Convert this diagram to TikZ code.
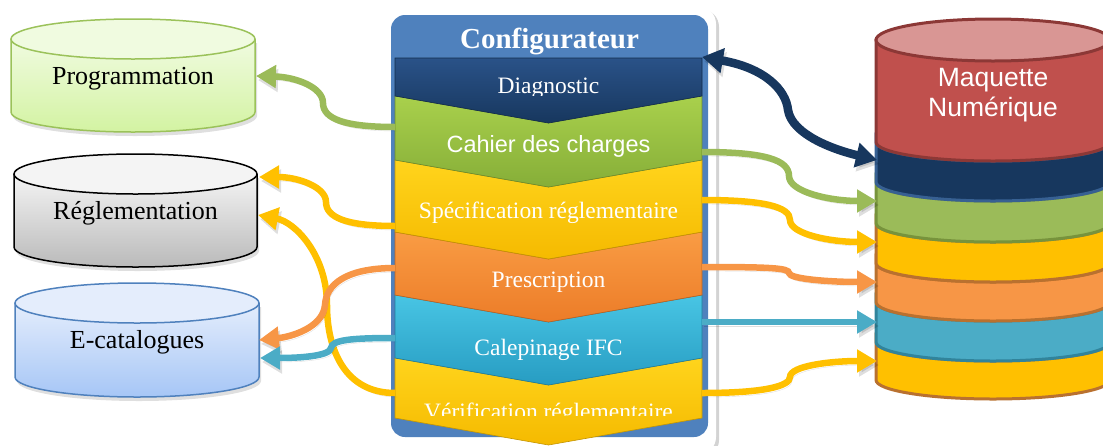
\documentclass[tikz,border=0pt]{standalone}
\usepackage{fontspec}
\setmainfont{Liberation Serif}
\newfontfamily\arialf{Liberation Sans}
\usetikzlibrary{arrows.meta,shadows}
\definecolor{cnavy}{HTML}{17375E}
\definecolor{cgreen}{HTML}{9BBB59}
\definecolor{cyellow}{HTML}{FFC000}
\definecolor{corange}{HTML}{F79646}
\definecolor{cteal}{HTML}{4BACC6}
\definecolor{cred}{HTML}{C0504D}
\definecolor{credtop}{HTML}{D99694}
\definecolor{credline}{HTML}{8C3836}
\definecolor{cnavyline}{HTML}{376092}
\definecolor{cgreenline}{HTML}{77933C}
\definecolor{cbrownline}{HTML}{B9712F}
\definecolor{ctealline}{HTML}{31849B}
\definecolor{panelblue}{HTML}{4F81BD}
\definecolor{progA}{HTML}{F0FBE0}
\definecolor{progB}{HTML}{D3F3A2}
\definecolor{progS}{HTML}{9BC25A}
\definecolor{reglA}{HTML}{F4F4F4}
\definecolor{reglB}{HTML}{BABABA}
\definecolor{ecatA}{HTML}{E4EDFC}
\definecolor{ecatB}{HTML}{A6C6F6}
\definecolor{ecatS}{HTML}{4F81BD}
\definecolor{diagA}{HTML}{2A5288}
\definecolor{diagB}{HTML}{17375E}
\definecolor{cahA}{HTML}{A9D04C}
\definecolor{cahB}{HTML}{86AE38}
\definecolor{yelA}{HTML}{FFD41C}
\definecolor{yelB}{HTML}{F5BA00}
\definecolor{orA}{HTML}{F99C44}
\definecolor{orB}{HTML}{EC7C28}
\definecolor{teA}{HTML}{48C5E4}
\definecolor{teB}{HTML}{279CC2}
\tikzset{
  connshadow/.style={preaction={draw=black, draw opacity=0.13, fill opacity=0.13, transform canvas={shift={(2pt,-4pt)}}}},
  conn/.style={connshadow, line width=6.5pt, -{Triangle[length=20pt,width=22pt]}},
  chtext/.style={text=white, font=\fontsize{23.5}{27}\selectfont, anchor=base, inner sep=0pt},
  cyltext/.style={font=\fontsize{26}{30}\selectfont, anchor=base, inner sep=0pt},
  cylshadow/.style={drop shadow={opacity=0.25, shadow xshift=2pt, shadow yshift=-4pt}},
}
\begin{document}
\begin{tikzpicture}[x=1pt,y=-1pt]
\useasboundingbox (0,0) rectangle (1103,445);

% ---------- left cylinders ----------
% Programmation
\path[cylshadow, top color=progA, bottom color=progB] (11,39) -- (11,112) arc[start angle=180,end angle=0,x radius=122,y radius=20] -- (255,39) -- cycle;
\draw[progS, line width=1.5pt] (11,39) -- (11,112) arc[start angle=180,end angle=0,x radius=122,y radius=20] -- (255,39);
\draw[progS, line width=1.5pt, fill=progA] (133,39) ellipse[x radius=122, y radius=20];
\node[cyltext] (prog) at (133,84) {Programmation};
% Reglementation
\path[cylshadow, top color=reglA, bottom color=reglB] (14,174) -- (14,247) arc[start angle=180,end angle=0,x radius=121.5,y radius=20] -- (257,174) -- cycle;
\draw[black, line width=1.5pt] (14,174) -- (14,247) arc[start angle=180,end angle=0,x radius=121.5,y radius=20] -- (257,174);
\draw[black, line width=1.5pt, fill=reglA] (135.5,174) ellipse[x radius=121.5, y radius=20];
\node[cyltext] (regl) at (135.5,219) {Réglementation};
% E-catalogues
\path[cylshadow, top color=ecatA, bottom color=ecatB] (15,303) -- (15,377) arc[start angle=180,end angle=0,x radius=122,y radius=20] -- (259,303) -- cycle;
\draw[ecatS, line width=1.5pt] (15,303) -- (15,377) arc[start angle=180,end angle=0,x radius=122,y radius=20] -- (259,303);
\draw[ecatS, line width=1.5pt, fill=ecatA] (137,303) ellipse[x radius=122, y radius=20];
\node[cyltext] (ecat) at (137,348) {E-catalogues};

% ---------- right cylinder ----------
\foreach \t/\b/\fc/\sc in {342/380/cyellow/cbrownline, 302/342/cteal/ctealline, 263/302/corange/cbrownline, 223/263/cyellow/cbrownline, 182/223/cgreen/cgreenline, 142/182/cnavy/cnavyline}{
  \draw[fill=\fc, draw=\sc, line width=3pt] (876,\t) -- (876,\b) arc[start angle=180,end angle=0,x radius=117,y radius=19] -- (1110,\t) arc[start angle=0,end angle=180,x radius=117,y radius=19] -- cycle;
}
\draw[fill=cred, draw=credline, line width=3pt] (876,40) -- (876,142) arc[start angle=180,end angle=0,x radius=117,y radius=19] -- (1110,40) -- cycle;
\draw[fill=credtop, draw=credline, line width=3pt] (993,40) ellipse[x radius=117, y radius=21];
\node[text=white, font=\arialf\fontsize{26.5}{30}\selectfont, align=center] (maq) at (993,95) {Maquette\\Numérique};

% ---------- configurateur panel ----------
\path[fill=white, drop shadow={opacity=0.35, shadow xshift=3pt, shadow yshift=-3pt}, rounded corners=18pt] (383,6) rectangle (716,455);
\path[fill=panelblue, rounded corners=14pt] (391,15) rectangle (708,437);
\node[text=white, font=\bfseries\fontsize{29}{33}\selectfont, anchor=base, inner sep=0pt] (title) at (549.5,48) {Configurateur};

% chevrons, drawn bottom first
\foreach \t/\b/\n/\ca/\cb in {358/418/27/yelA/yelB, 295/358/27/teA/teB, 232/295/27/orA/orB, 160/232/27/yelA/yelB, 96/160/27/cahA/cahB, 58/96/0/diagA/diagB}{
  \path[top color=\ca, bottom color=\cb, draw=\cb!80!black, line width=0.6pt] (395,\t) -- (548.5,\t+\n) -- (702,\t) -- (702,\b) -- (548.5,\b+27) -- (395,\b) -- cycle;
}
\begin{scope}
  \clip (395,58) rectangle (702,95);
  \node[chtext] (diag) at (548.5,93) {Diagnostic};
\end{scope}
\node[chtext, font=\arialf\fontsize{23.5}{27}\selectfont] (cah) at (548.5,152) {Cahier des charges};
\node[chtext] (spec) at (548.5,218) {Spécification réglementaire};
\node[chtext] (presc) at (548.5,287) {Prescription};
\node[chtext] (cale) at (548.5,355) {Calepinage IFC};
\begin{scope}
  \clip (395,358) rectangle (702,415);
  \node[chtext] (verif) at (548.5,419) {Vérification réglementaire};
\end{scope}

% ---------- connector end points ----------
\coordinate (cahL) at (395,127);
\coordinate (specL) at (395,226);
\coordinate (prescL) at (395,268);
\coordinate (caleL) at (395,338);
\coordinate (verifL) at (395,393);
\coordinate (diagR) at (702,57);
\coordinate (cahR) at (702,152);
\coordinate (specR) at (702,200);
\coordinate (prescR) at (702,267);
\coordinate (caleR) at (702,322);
\coordinate (verifR) at (702,393);
\coordinate (progE) at (256,76);
\coordinate (reglE1) at (259,177);
\coordinate (reglE2) at (258,215);
\coordinate (ecatE1) at (259,340);
\coordinate (ecatE2) at (260,358);
\coordinate (mqNavy) at (877,160);
\coordinate (mqGreen) at (877,201);
\coordinate (mqYel) at (877,242);
\coordinate (mqOr) at (877,282);
\coordinate (mqTeal) at (877,322);
\coordinate (mqYel2) at (877,361);

% ---------- left connectors ----------
\draw[conn, cyellow] (verifL) .. controls (345,393) and (327,350) .. (327,305) .. controls (327,255) and (295,222) .. (reglE2);
\draw[conn, cgreen] (cahL) .. controls (345,127) and (323,119) .. (323,103) .. controls (323,87) and (295,77) .. (progE);
\draw[conn, cyellow] (specL) .. controls (345,226) and (326,217) .. (326,202) .. controls (326,187) and (298,177) .. (reglE1);
\draw[conn, corange] (prescL) .. controls (345,268) and (326,285) .. (325,305) .. controls (323,328) and (290,337) .. (ecatE1);
\draw[conn, cteal] (caleL) .. controls (350,338) and (332,340) .. (331,348) .. controls (330,356) and (300,358) .. (ecatE2);

% ---------- right connectors ----------
\draw[connshadow, cnavy, line width=8.5pt, {Triangle[length=21pt,width=24pt]}-{Triangle[length=21pt,width=24pt]}] (diagR) .. controls (765,68) and (786,90) .. (788,110) .. controls (792,135) and (835,150) .. (mqNavy);
\draw[conn, cgreen] (cahR) .. controls (765,152) and (789,160) .. (789,176) .. controls (789,192) and (830,201) .. (mqGreen);
\draw[conn, cyellow] (specR) .. controls (765,200) and (790,207) .. (790,220) .. controls (790,234) and (830,242) .. (mqYel);
\draw[conn, corange] (prescR) .. controls (770,267) and (789,268) .. (789,273) .. controls (789,279) and (830,282) .. (mqOr);
\draw[conn, cteal] (caleR) -- (mqTeal);
\draw[conn, cyellow] (verifR) .. controls (765,393) and (790,386) .. (790,377) .. controls (790,366) and (830,361) .. (mqYel2);
\end{tikzpicture}
\end{document}
